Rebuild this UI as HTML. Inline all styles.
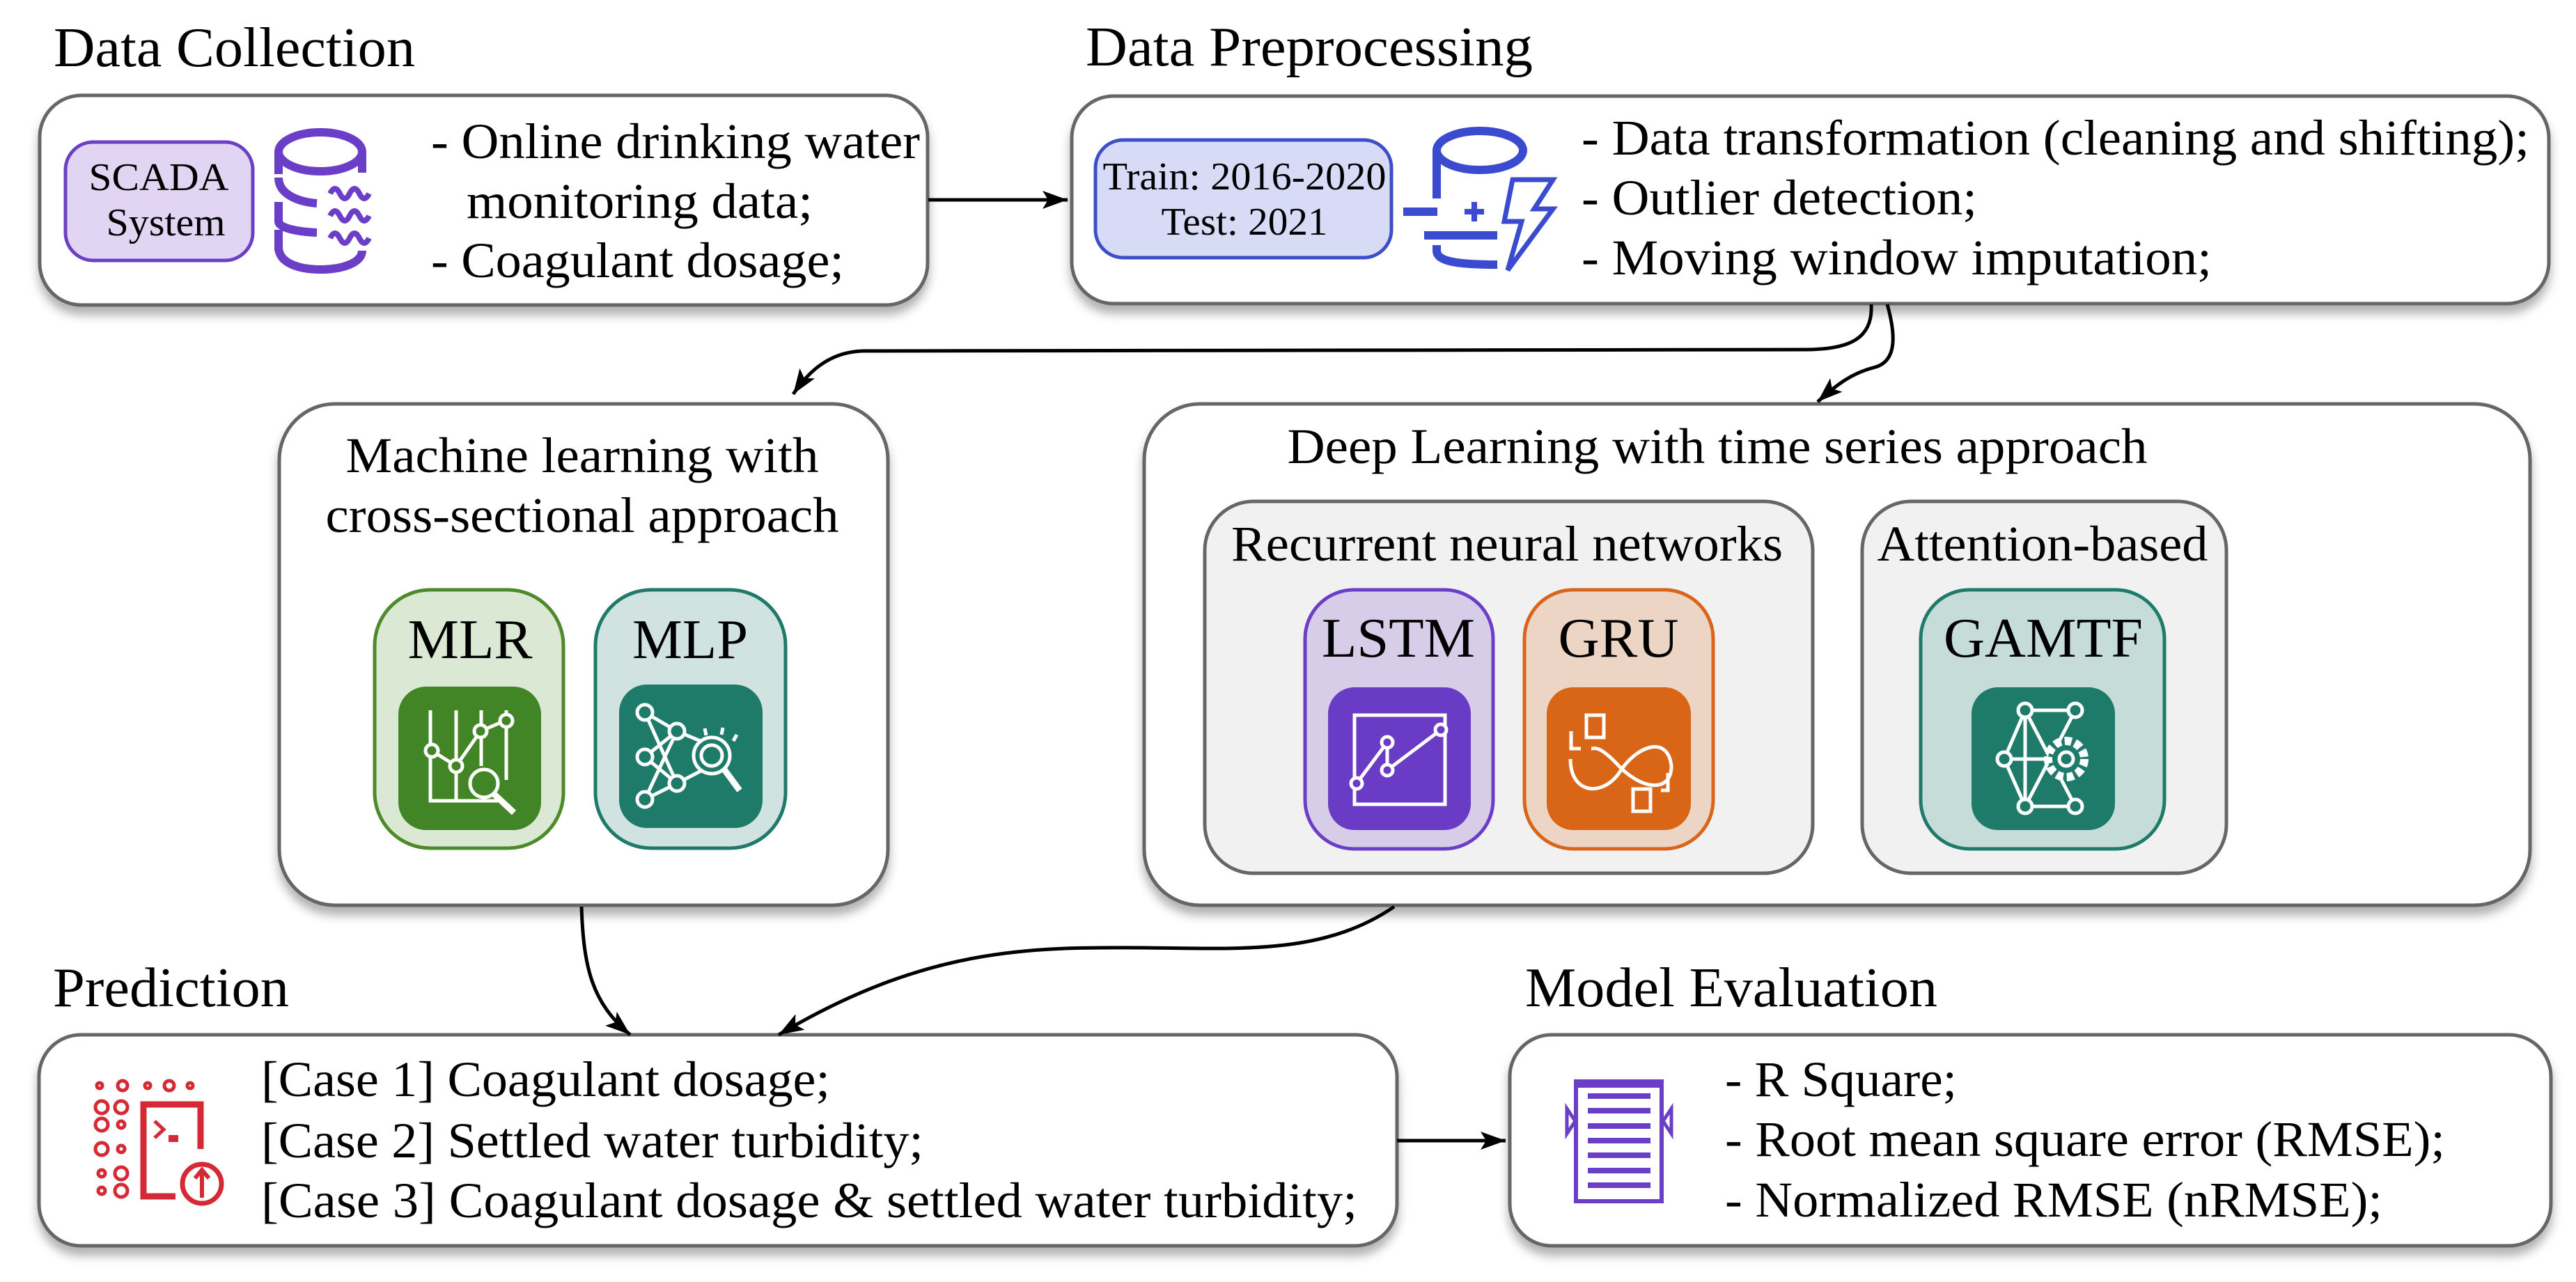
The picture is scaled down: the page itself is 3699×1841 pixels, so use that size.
<!DOCTYPE html>
<html><head><meta charset="utf-8"><style>
html,body{margin:0;padding:0;background:#fff;}
svg{display:block;}
text{font-family:"Liberation Serif",serif;fill:#000;}
</style></head><body>
<svg width="3699" height="1841" viewBox="0 0 3699 1841" xmlns="http://www.w3.org/2000/svg">
<defs>
<filter id="sh" x="-5%" y="-5%" width="110%" height="125%">
<feDropShadow dx="0" dy="12" stdDeviation="7" flood-color="#000" flood-opacity="0.3"/>
</filter>
<marker id="ah" markerUnits="userSpaceOnUse" markerWidth="40" markerHeight="30" refX="36" refY="13" orient="auto">
<path d="M0,0 L36,13 L0,26 L8,13 Z" fill="#000"/>
</marker>
</defs>

<text x="77" y="95" font-size="80" textLength="519" lengthAdjust="spacingAndGlyphs">Data Collection</text>
<text x="1559" y="94" font-size="80" textLength="642" lengthAdjust="spacingAndGlyphs">Data Preprocessing</text>
<text x="76" y="1445" font-size="80" textLength="339" lengthAdjust="spacingAndGlyphs">Prediction</text>
<text x="2190" y="1445" font-size="80" textLength="592" lengthAdjust="spacingAndGlyphs">Model Evaluation</text>

<g fill="#fff" stroke="#666" stroke-width="5" filter="url(#sh)">
<rect x="57" y="137" width="1275" height="301" rx="60"/>
<rect x="1539" y="138" width="2121" height="298" rx="60"/>
<rect x="401" y="580" width="874" height="720" rx="80"/>
<rect x="1643" y="580" width="1990" height="720" rx="80"/>
<rect x="56" y="1486" width="1950" height="303" rx="60"/>
<rect x="2168" y="1486" width="1495" height="303" rx="60"/>
</g>

<g fill="none" stroke="#000" stroke-width="5">
<path d="M1333,287 L1533,287" marker-end="url(#ah)"/>
<path d="M2687,437 C2690,490 2650,502 2590,502 L1240,504 C1190,505 1160,535 1139,566" marker-end="url(#ah)"/>
<path d="M2710,437 C2722,480 2725,520 2690,528 C2660,536 2640,550 2610,577" marker-end="url(#ah)"/>
<path d="M835,1302 C838,1390 850,1440 905,1486" marker-end="url(#ah)"/>
<path d="M2002,1302 C1900,1372 1780,1362 1640,1361 C1480,1360 1330,1360 1118,1486" marker-end="url(#ah)"/>
<path d="M2006,1638 L2162,1638" marker-end="url(#ah)"/>
</g>

<rect x="94" y="204" width="269" height="170" rx="40" fill="#e1d5f3" stroke="#6c3fc4" stroke-width="5"/>
<text x="228" y="273" font-size="56" text-anchor="middle" textLength="201" lengthAdjust="spacingAndGlyphs">SCADA</text>
<text x="238" y="338" font-size="56" text-anchor="middle" textLength="171" lengthAdjust="spacingAndGlyphs">System</text>
<g fill="none" stroke="#6a3ec6" stroke-width="12">
<ellipse cx="460" cy="218" rx="60" ry="28"/>
<path d="M400,218 L400,250"/>
<path d="M400,255 C400,280 430,290 455,292"/>
<path d="M400,290 L400,318 C400,328 430,333 455,334"/>
<path d="M400,330 L400,360"/>
<path d="M400,355 C400,378 430,387 460,387 C490,387 520,378 520,360"/>
<path d="M520,218 L520,248"/>
<path d="M474,278 q7,-14 14,0 t14,0 t14,0 t14,0" stroke-width="8"/>
<path d="M474,310 q7,-14 14,0 t14,0 t14,0 t14,0" stroke-width="8"/>
<path d="M474,342 q7,-14 14,0 t14,0 t14,0 t14,0" stroke-width="8"/>
</g>
<g font-size="72">
<text x="619" y="227" textLength="702" lengthAdjust="spacingAndGlyphs">- Online drinking water</text>
<text x="670" y="313" textLength="497" lengthAdjust="spacingAndGlyphs">monitoring data;</text>
<text x="619" y="398" textLength="593" lengthAdjust="spacingAndGlyphs">- Coagulant dosage;</text>
</g>

<rect x="1573" y="201" width="425" height="169" rx="40" fill="#d7dbf5" stroke="#3b4fc9" stroke-width="5"/>
<text x="1787" y="272" font-size="56" text-anchor="middle" textLength="407" lengthAdjust="spacingAndGlyphs">Train: 2016-2020</text>
<text x="1787" y="337" font-size="56" text-anchor="middle" textLength="239" lengthAdjust="spacingAndGlyphs">Test: 2021</text>
<g fill="none" stroke="#3b4bd0" stroke-width="12">
<ellipse cx="2125" cy="216" rx="62" ry="28"/>
<path d="M2063,216 L2063,285"/>
<path d="M2015,304 L2064,304"/>
<path d="M2117,290 L2117,318 M2103,304 L2131,304" stroke-width="8"/>
<path d="M2045,338 L2150,338"/>
<path d="M2063,352 L2063,360 C2063,375 2090,380 2150,380"/>
<path d="M2172,258 L2230,258 L2203,300 L2230,300 L2165,388 L2185,318 L2160,318 Z" stroke-width="7"/>
</g>
<g font-size="72">
<text x="2271" y="222" textLength="1361" lengthAdjust="spacingAndGlyphs">- Data transformation (cleaning and shifting);</text>
<text x="2271" y="308" textLength="568" lengthAdjust="spacingAndGlyphs">- Outlier detection;</text>
<text x="2271" y="394" textLength="905" lengthAdjust="spacingAndGlyphs">- Moving window imputation;</text>
</g>

<text x="836" y="678" font-size="72" text-anchor="middle" textLength="679" lengthAdjust="spacingAndGlyphs">Machine learning with</text>
<text x="836" y="764" font-size="72" text-anchor="middle" textLength="737" lengthAdjust="spacingAndGlyphs">cross-sectional approach</text>
<rect x="538" y="847" width="271" height="371" rx="80" fill="#dae8d4" stroke="#4d8a2a" stroke-width="5"/>
<text x="675" y="945" font-size="80" text-anchor="middle" textLength="179" lengthAdjust="spacingAndGlyphs">MLR</text>
<rect x="572" y="986" width="205" height="206" rx="40" fill="#418526"/>
<g fill="none" stroke="#fff" stroke-width="5">
<path d="M618,1020 L618,1150 L715,1150 M655,1020 L655,1150 M691,1020 L691,1100 M727,1020 L727,1120"/>
<path d="M620,1078 L655,1100 L690,1050 L725,1035"/>
<circle cx="620" cy="1078" r="9" fill="#418526"/><circle cx="655" cy="1100" r="9" fill="#418526"/>
<circle cx="690" cy="1050" r="9" fill="#418526"/><circle cx="727" cy="1035" r="9" fill="#418526"/>
<circle cx="695" cy="1125" r="20" fill="#418526"/><path d="M709,1140 L738,1167" stroke-width="9"/>
</g>
<rect x="855" y="847" width="273" height="371" rx="80" fill="#d1e3e1" stroke="#1f7a6a" stroke-width="5"/>
<text x="991" y="945" font-size="80" text-anchor="middle" textLength="166" lengthAdjust="spacingAndGlyphs">MLP</text>
<rect x="889" y="983" width="206" height="206" rx="40" fill="#1e7b69"/>
<g fill="none" stroke="#fff" stroke-width="5">
<path d="M926,1023 L972,1050 L926,1087 L972,1125 L926,1148 M926,1023 L972,1125 M926,1148 L972,1050 L1020,1070 M972,1125 L1020,1100"/>
<circle cx="926" cy="1023" r="11" fill="#1e7b69"/><circle cx="972" cy="1050" r="11" fill="#1e7b69"/>
<circle cx="926" cy="1087" r="11" fill="#1e7b69"/><circle cx="972" cy="1125" r="11" fill="#1e7b69"/>
<circle cx="926" cy="1148" r="11" fill="#1e7b69"/>
<circle cx="1022" cy="1085" r="26" fill="#1e7b69"/><circle cx="1022" cy="1085" r="15"/>
<path d="M1040,1105 L1062,1135" stroke-width="9"/>
<path d="M1012,1046 l2,10 M1038,1045 l-2,10 M1058,1055 l-5,9"/>
</g>

<text x="2466" y="665" font-size="72" text-anchor="middle" textLength="1235" lengthAdjust="spacingAndGlyphs">Deep Learning with time series approach</text>
<rect x="1730" y="720" width="873" height="534" rx="70" fill="#f1f1f1" stroke="#666" stroke-width="5"/>
<text x="2164" y="805" font-size="72" text-anchor="middle" textLength="792" lengthAdjust="spacingAndGlyphs">Recurrent neural networks</text>
<rect x="2674" y="720" width="523" height="534" rx="70" fill="#f1f1f1" stroke="#666" stroke-width="5"/>
<text x="2933" y="805" font-size="72" text-anchor="middle" textLength="475" lengthAdjust="spacingAndGlyphs">Attention-based</text>

<rect x="1874" y="847" width="270" height="372" rx="70" fill="#d8cde8" stroke="#6a3ec6" stroke-width="5"/>
<text x="2008" y="943" font-size="80" text-anchor="middle" textLength="220" lengthAdjust="spacingAndGlyphs">LSTM</text>
<rect x="1907" y="987" width="205" height="205" rx="38" fill="#6a3bc4"/>
<g fill="none" stroke="#fff" stroke-width="5">
<path d="M1945,1027 L2075,1027 L2075,1155 L1945,1155 Z"/>
<path d="M1948,1125 L1992,1066 L1992,1106 L2069,1048"/>
<circle cx="1948" cy="1125" r="8" fill="#6a3bc4"/><circle cx="1992" cy="1066" r="8" fill="#6a3bc4"/>
<circle cx="1992" cy="1106" r="8" fill="#6a3bc4"/><circle cx="2069" cy="1048" r="8" fill="#6a3bc4"/>
</g>
<rect x="2189" y="847" width="271" height="372" rx="70" fill="#edd5c5" stroke="#d9651a" stroke-width="5"/>
<text x="2324" y="943" font-size="80" text-anchor="middle" textLength="173" lengthAdjust="spacingAndGlyphs">GRU</text>
<rect x="2221" y="987" width="207" height="205" rx="38" fill="#d96516"/>
<g fill="none" stroke="#fff" stroke-width="5">
<rect x="2278" y="1027" width="25" height="32"/><rect x="2345" y="1133" width="25" height="32"/>
<path d="M2256,1050 L2256,1075 L2270,1075 M2395,1110 L2395,1135 L2385,1135"/>
<path d="M2255,1090 C2255,1140 2300,1145 2325,1110 C2350,1070 2395,1055 2400,1100 C2400,1140 2355,1135 2320,1095 C2295,1070 2290,1075 2285,1075"/>
</g>
<rect x="2758" y="847" width="350" height="372" rx="70" fill="#c6dcd9" stroke="#1f7a6a" stroke-width="5"/>
<text x="2934" y="943" font-size="80" text-anchor="middle" textLength="286" lengthAdjust="spacingAndGlyphs">GAMTF</text>
<rect x="2831" y="987" width="206" height="205" rx="38" fill="#1e7b69"/>
<g fill="none" stroke="#fff" stroke-width="5">
<path d="M2908,1020 L2980,1020 M2908,1020 L2878,1090 L2908,1158 L2980,1158 M2878,1090 L2960,1090 M2908,1020 L2980,1158 M2908,1158 L2980,1020 M2908,1020 L2908,1158"/>
<circle cx="2908" cy="1020" r="10" fill="#1e7b69"/><circle cx="2980" cy="1020" r="10" fill="#1e7b69"/>
<circle cx="2878" cy="1090" r="10" fill="#1e7b69"/><circle cx="2908" cy="1158" r="10" fill="#1e7b69"/>
<circle cx="2980" cy="1158" r="10" fill="#1e7b69"/>
<circle cx="2967" cy="1090" r="26" fill="#1e7b69" stroke-dasharray="10 5" stroke-width="12"/>
<circle cx="2967" cy="1090" r="10"/>
</g>

<g fill="none" stroke="#d42a35" stroke-width="5">
<circle cx="176" cy="1559" r="7"/><circle cx="212" cy="1559" r="4"/><circle cx="243" cy="1559" r="7"/><circle cx="273" cy="1559" r="4"/>
<circle cx="143" cy="1559" r="4"/>
<circle cx="146" cy="1590" r="9"/><circle cx="174" cy="1590" r="9"/>
<circle cx="146" cy="1615" r="9"/><circle cx="174" cy="1615" r="5"/>
<circle cx="146" cy="1650" r="9"/><circle cx="174" cy="1650" r="5"/>
<circle cx="146" cy="1685" r="5"/><circle cx="174" cy="1685" r="9"/>
<circle cx="146" cy="1710" r="5"/><circle cx="174" cy="1710" r="9"/>
<path d="M252,1718 L206,1718 L206,1586 L288,1586 L288,1650" stroke-width="9"/>
<path d="M222,1610 L235,1622 L222,1634" stroke-width="5"/>
<circle cx="290" cy="1700" r="28" stroke-width="7"/>
<path d="M290,1720 L290,1682 M280,1692 L290,1680 L300,1692" stroke-width="6"/>
</g>
<rect x="242" y="1630" width="14" height="10" fill="#d42a35"/>
<g font-size="72">
<text x="375" y="1574" textLength="817" lengthAdjust="spacingAndGlyphs">[Case 1] Coagulant dosage;</text>
<text x="375" y="1662" textLength="951" lengthAdjust="spacingAndGlyphs">[Case 2] Settled water turbidity;</text>
<text x="375" y="1748" textLength="1574" lengthAdjust="spacingAndGlyphs">[Case 3] Coagulant dosage &amp; settled water turbidity;</text>
</g>

<g fill="none" stroke="#6a3ec6" stroke-width="6">
<rect x="2263" y="1553" width="123" height="172"/>
<path d="M2250,1592 L2250,1628 L2262,1610 Z M2400,1592 L2400,1628 L2388,1610 Z" stroke-width="5"/>
</g>
<g fill="#6a3ec6">
<rect x="2263" y="1550" width="126" height="12"/>
<rect x="2280" y="1570" width="90" height="8"/><rect x="2280" y="1591" width="90" height="8"/>
<rect x="2280" y="1613" width="90" height="8"/><rect x="2280" y="1634" width="90" height="8"/>
<rect x="2280" y="1655" width="90" height="8"/><rect x="2280" y="1677" width="90" height="8"/>
<rect x="2280" y="1698" width="90" height="8"/>
</g>
<g font-size="72">
<text x="2477" y="1574" textLength="333" lengthAdjust="spacingAndGlyphs">- R Square;</text>
<text x="2477" y="1660" textLength="1034" lengthAdjust="spacingAndGlyphs">- Root mean square error (RMSE);</text>
<text x="2477" y="1747" textLength="944" lengthAdjust="spacingAndGlyphs">- Normalized RMSE (nRMSE);</text>
</g>
</svg>
</body></html>
